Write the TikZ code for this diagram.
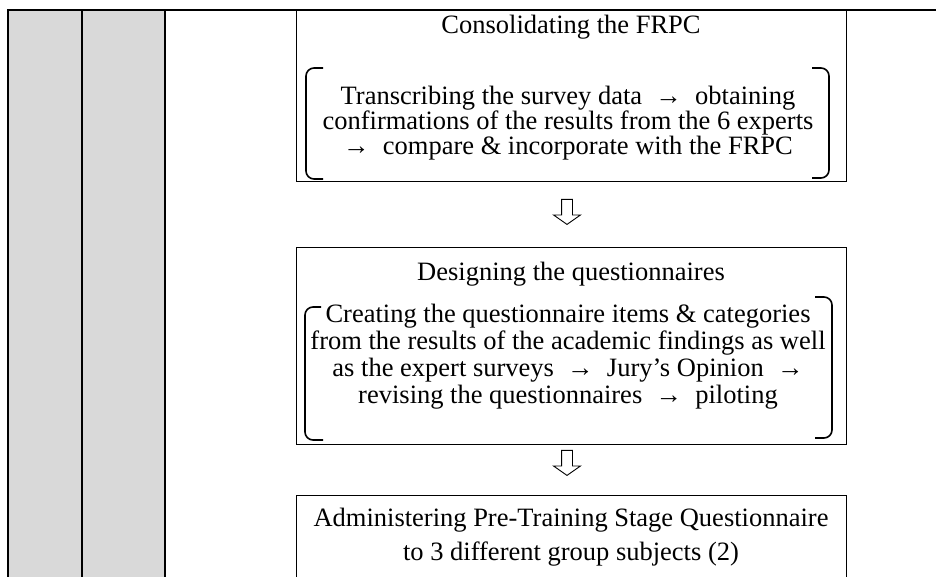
\documentclass[tikz,border=0pt]{standalone}
\usepackage{fontspec}
\setmainfont{Liberation Serif}
\usetikzlibrary{shapes.arrows}

\definecolor{cellgray}{HTML}{D9D9D9}

\tikzset{
  gridline/.style={line width=1.6pt},
  stagebox/.style={draw, line width=1.3pt, inner sep=0pt, anchor=north west, minimum width=550pt},
  stagetext/.style={font=\fontsize{26.5}{25}\selectfont, align=center, inner sep=0pt},
  brace/.style={line width=1.6pt, rounded corners=8pt},
  downarrow/.style={draw, line width=0.9pt, single arrow, shape border rotate=270,
    inner sep=5pt, minimum height=25pt, single arrow head extend=8pt,
    single arrow tip angle=110}
}

\begin{document}
\begin{tikzpicture}[x=1pt,y=-1pt]
	\useasboundingbox (0,0) rectangle (936,577);
	% table columns
	\fill[cellgray] (8,10) rectangle (165,580);
	\draw[gridline] (8,580) -- (8,10) -- (940,10);
	\draw[gridline] (82,10) -- (82,580);
	\draw[gridline] (165,10) -- (165,580);

	% stage boxes
	\node[stagebox, minimum height=171pt] (consol) at (296,10) {};
	\node[stagebox, minimum height=197pt] (design) at (296,247) {};
	\node[stagebox, minimum height=100pt] (admin) at (296,495) {};

	% texts
	\node[stagetext] (consoltitle) at (571,27) {Consolidating the FRPC};
	\node[stagetext] (consolbody) at (568,123) {Transcribing the survey data\ \ →\ \ obtaining\\
		confirmations of the results from the 6 experts\\
		→\ \ compare \& incorporate with the FRPC};
	\node[stagetext] (designtitle) at (571,274) {Designing the questionnaires};
	\node[stagetext] (designbody) at (568,357) {Creating the questionnaire items \& categories\\[2pt]
		from the results of the academic findings as well\\[2pt]
		as the expert surveys\ \ →\ \ Jury’s Opinion\ \ →\\[2pt]
		revising the questionnaires\ \ →\ \ piloting};
	\node[stagetext] (admintitle) at (571,520) {Administering Pre-Training Stage Questionnaire};
	\node[stagetext] (adminbody) at (571,554) {to 3 different group subjects (2)};

	% brackets
	\draw[brace] (323,68) -- (306,68) -- (306,179) -- (323,179);
	\draw[brace] (812,68) -- (829,68) -- (829,178) -- (812,178);
	\draw[brace] (321,307) -- (305,307) -- (305,440) -- (323,440);
	\draw[brace] (815,297) -- (832,297) -- (832,438) -- (815,438);

	% arrows between stages
	\node[downarrow] (arrowa) at (567,210) {};
	\node[downarrow] (arrowb) at (567,461) {};
\end{tikzpicture}
\end{document}
